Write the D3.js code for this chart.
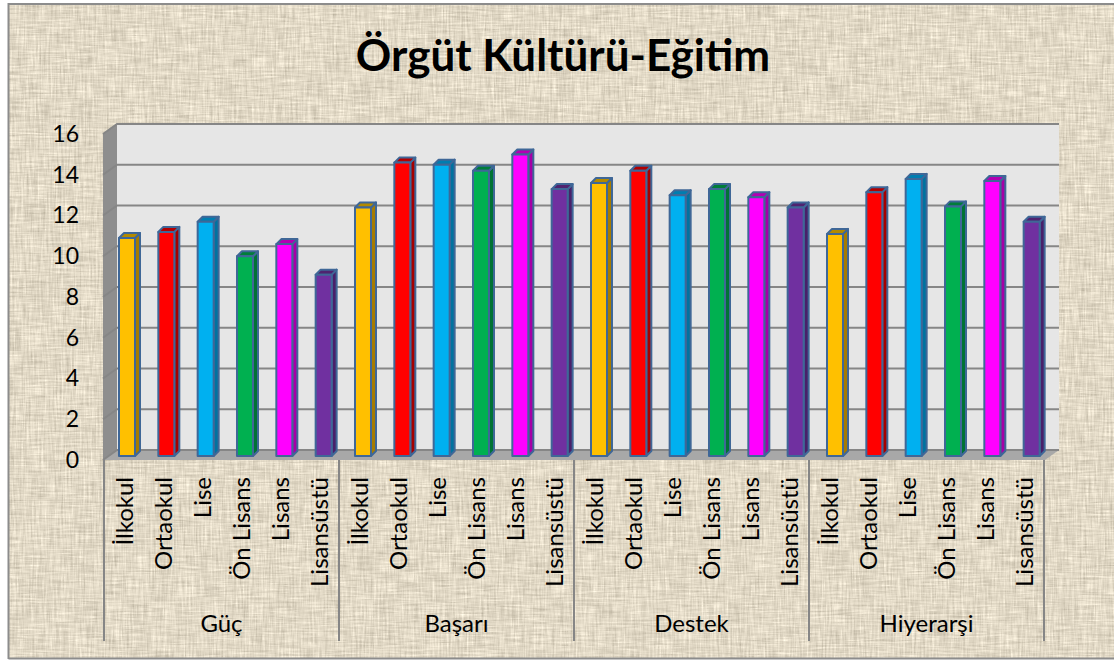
<!DOCTYPE html>
<html>
<head>
<meta charset="utf-8">
<script src="https://cdn.jsdelivr.net/npm/d3@7"></script>
<style>
html, body { margin: 0; padding: 0; background: #fff; }
svg { display: block; }
text { font-family: Lato, "Open Sans", sans-serif; fill: #000; }
</style>
</head>
<body>
<div id="viz"></div>
<script>
var w = 1114, h = 661;

var groups = ["Güç", "Başarı", "Destek", "Hiyerarşi"];
var levels = ["İlkokul", "Ortaokul", "Lise", "Ön Lisans", "Lisans", "Lisansüstü"];
var colors = ["#ffc000", "#ff0000", "#00b0f0", "#00b050", "#ff00ff", "#7030a0"];
var sideColors = ["#a67c00", "#a60000", "#0072a0", "#007334", "#a600a6", "#49206a"];
var topColors = ["#b38a00", "#b30000", "#007db0", "#007d39", "#b300b3", "#4f2370"];
var guc = [10.7, 11, 11.5, 9.8, 10.4, 8.9];
var basari = [12.2, 14.4, 14.3, 14, 14.8, 13.1];
var destek = [13.4, 14, 12.8, 13.1, 12.7, 12.2];
var hiyerarsi = [10.9, 12.95, 13.6, 12.25, 13.5, 11.5];
var yTicks = [0, 2, 4, 6, 8, 10, 12, 14, 16];

var rows = [guc, basari, destek, hiyerarsi];

var left = 103, right = 1045, floorY = 460;
var depthX = 14, depthY = 10;
var barH = 326;

var svg = d3.select("#viz").append("svg").attr("width", w).attr("height", h);
var defs = svg.append("defs");

// burlap look: two stretched noises crossed over a beige base
var f = defs.append("filter").attr("id", "cloth")
    .attr("x", 0).attr("y", 0).attr("width", "100%").attr("height", "100%")
    .attr("color-interpolation-filters", "sRGB");
f.append("feTurbulence").attr("type", "fractalNoise").attr("baseFrequency", "0.55 0.04")
    .attr("numOctaves", 3).attr("seed", 3).attr("result", "a");
f.append("feTurbulence").attr("type", "fractalNoise").attr("baseFrequency", "0.04 0.55")
    .attr("numOctaves", 3).attr("seed", 8).attr("result", "b");
f.append("feComposite").attr("in", "a").attr("in2", "b").attr("operator", "arithmetic")
    .attr("k1", 0).attr("k2", 0.5).attr("k3", 0.5).attr("k4", 0).attr("result", "n");
f.append("feColorMatrix").attr("in", "n").attr("type", "matrix")
    .attr("values", "0.42 0 0 0 0.675  0.42 0 0 0 0.64  0.42 0 0 0 0.565  0 0 0 0 1");

svg.append("rect").attr("x", 8).attr("y", 4).attr("width", w - 8).attr("height", 655)
    .attr("filter", "url(#cloth)");
svg.append("path").attr("d", "M8.5," + (h - 2) + "V4H" + w + "M8.5," + (h - 2.5) + "H" + w)
    .attr("fill", "none").attr("stroke", "#8c8c8c").attr("stroke-width", 2);

svg.append("text").attr("x", 563).attr("y", 71).attr("text-anchor", "middle")
    .attr("font-size", 44).attr("font-weight", 700).text("Örgüt Kültürü-Eğitim");

// front plane scale, used for the axis labels and the side wall
var y = d3.scaleLinear().domain([0, 16]).range([floorY, floorY - barH]);

// axis labels and separators
var x0 = d3.scaleBand().domain(groups).range([104, 1044]);
var x1 = d3.scaleBand().domain(levels).range([0, x0.bandwidth()]);
// bars sit further back in the 3d box, so they spread a little wider
var xb0 = d3.scaleBand().domain(groups).range([103, 1047]);
var xb1 = d3.scaleBand().domain(levels).range([0, xb0.bandwidth()]);

var pt = function(a) { return a.join(","); };

// walls
var wallTop = y(16);
svg.append("polygon").attr("fill", "#e6e6e6")
    .attr("points", [[left + depthX, wallTop - depthY], [right + depthX, wallTop - depthY], [right + depthX, floorY - depthY], [left + depthX, floorY - depthY]].map(pt).join(" "));
svg.append("polygon").attr("fill", "#8e8e8e")
    .attr("points", [[left, wallTop], [left + depthX, wallTop - depthY], [left + depthX, floorY - depthY], [left, floorY]].map(pt).join(" "));
svg.append("polygon").attr("fill", "#a8a8a8")
    .attr("points", [[left, floorY], [left + depthX, floorY - depthY], [right + depthX, floorY - depthY], [right, floorY]].map(pt).join(" "));

// gridlines, along the side wall then the back wall
svg.append("g").selectAll("polyline").data(yTicks).enter().append("polyline")
    .attr("fill", "none")
    .attr("stroke", "#868686")
    .attr("stroke-width", 2)
    .attr("points", function(d) {
        return [[left, y(d)], [left + depthX, y(d) - depthY], [right + depthX, y(d) - depthY]].map(pt).join(" ");
    });

// bars, standing a little behind the front edge of the floor
var barW = 16, shift = 4.33, lift = 4, barDx = 5, barDy = 5;
var bars = [];
rows.forEach(function(r, i) {
    r.forEach(function(v, j) {
        bars.push({ group: groups[i], level: levels[j], idx: j, value: v });
    });
});

var bar = svg.append("g").selectAll("g").data(bars).enter().append("g")
    .attr("stroke", "#3f6797").attr("stroke-width", 2).attr("stroke-linejoin", "round")
    .attr("transform", function(d) {
        var cx = xb0(d.group) + xb1(d.level) + xb1.bandwidth() / 2 + shift;
        return "translate(" + (cx - barW / 2) + "," + (-lift) + ")";
    });

bar.append("polygon").attr("fill", function(d) { return sideColors[d.idx]; })
    .attr("points", function(d) {
        return [[barW, y(d.value)], [barW + barDx, y(d.value) - barDy], [barW + barDx, floorY - barDy], [barW, floorY]].map(pt).join(" ");
    });
bar.append("polygon").attr("fill", function(d) { return topColors[d.idx]; })
    .attr("points", function(d) {
        return [[0, y(d.value)], [barDx, y(d.value) - barDy], [barW + barDx, y(d.value) - barDy], [barW, y(d.value)]].map(pt).join(" ");
    });
bar.append("rect").attr("fill", function(d) { return colors[d.idx]; })
    .attr("x", 0).attr("width", barW)
    .attr("y", function(d) { return y(d.value); })
    .attr("height", function(d) { return floorY - y(d.value); });

// value axis, labels only
var yAxis = svg.append("g").attr("transform", "translate(79,0)")
    .call(d3.axisLeft(y).tickValues(yTicks).tickSize(0).tickPadding(0));
yAxis.select(".domain").remove();
yAxis.selectAll("text").attr("font-size", 23).attr("x", 0).attr("dy", "0.32em")
    .style("font-family", "Lato, sans-serif");

// two level category axis
var sep = groups.map(function(g) { return x0(g); }).concat([1044]);
svg.append("g").selectAll("line").data(sep).enter().append("line")
    .attr("x1", function(d) { return d; }).attr("x2", function(d) { return d; })
    .attr("y1", floorY).attr("y2", 641)
    .attr("stroke", "#868686").attr("stroke-width", 2);

svg.append("g").selectAll("text").data(bars).enter().append("text")
    .attr("text-anchor", "end")
    .attr("font-size", 24)
    .attr("transform", function(d) {
        var cx = x0(d.group) + x1(d.level) + x1.bandwidth() / 2;
        return "translate(" + (cx + 9) + ",477) rotate(-90)";
    })
    .text(function(d) { return d.level; });

svg.append("g").selectAll("text").data(groups).enter().append("text")
    .attr("text-anchor", "middle")
    .attr("font-size", 24)
    .attr("x", function(d) { return x0(d) + x0.bandwidth() / 2; })
    .attr("y", 632)
    .text(function(d) { return d; });
</script>
</body>
</html>
